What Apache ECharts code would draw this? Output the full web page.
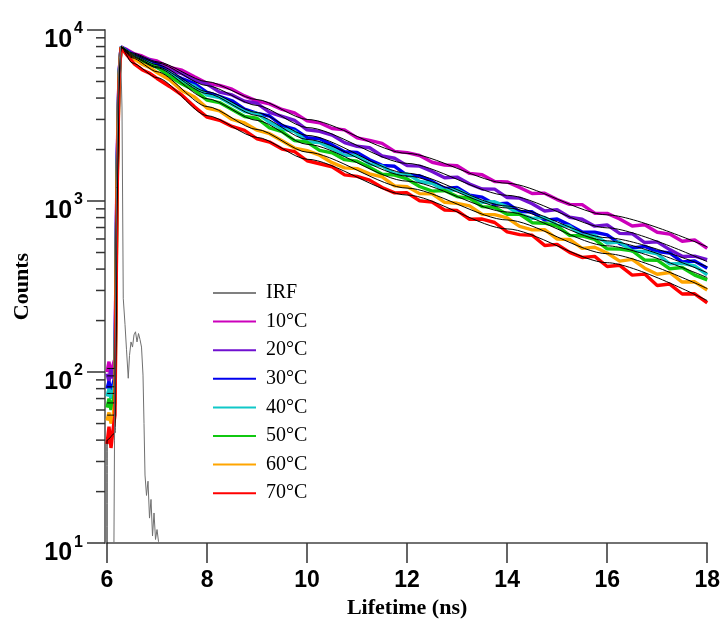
<!DOCTYPE html>
<html>
<head>
<meta charset="utf-8">
<script src="https://cdn.jsdelivr.net/npm/echarts@6/dist/echarts.min.js"></script>
<style>
html,body{margin:0;padding:0;background:#fff;}
#c{width:723px;height:624px;}
</style>
</head>
<body>
<div id="c"></div>
<script>
// ---- data ----
const xTicks = [6, 8, 10, 12, 14, 16, 18];
const yTickBase = '10';
const yTickExp = { 10: '1', 100: '2', 1000: '3', 10000: '4' };
const minorTickVals = [20,30,40,50,60,70,80,90,200,300,400,500,600,700,800,900,2000,3000,4000,5000,6000,7000,8000,9000];

const seriesNames = ['10°C','20°C','30°C','40°C','50°C','60°C','70°C'];
const seriesColors = ['#cc00bb','#7010d0','#0000ee','#10c8c8','#10c810','#ffa500','#ff0000'];

const dataT = [6.00,6.04,6.08,6.12,6.16,6.20,6.24,6.28,6.40,6.55,6.70,6.85,
  7.00,7.25,7.50,7.75,8.00,8.25,8.50,8.75,9.00,9.25,9.50,9.75,10.00,10.25,10.50,10.75,
  11.00,11.25,11.50,11.75,12.00,12.25,12.50,12.75,13.00,13.25,13.50,13.75,14.00,14.25,
  14.50,14.75,15.00,15.25,15.50,15.75,16.00,16.25,16.50,16.75,17.00,17.25,17.50,17.75,18.00];

const d10 = [100,115,92,110,120,1600,5600,7950,7680,7240,7050,6720,
  6585,6039,5814,5330,4890,4737,4508,4118,3842,3697,3430,3274,2940,2868,2653,2606,
  2342,2260,2173,1950,1919,1846,1686,1624,1607,1450,1424,1300,1295,1200,
  1106,1112,1020,956,953,849,847,785,715,726,657,641,582,593,529];
const d20 = [98,88,105,92,110,1500,5500,7950,7580,7200,6860,6700,
  6366,5831,5555,5100,4825,4332,4171,3831,3729,3303,3130,2958,2609,2555,2428,2195,
  2089,2050,1833,1778,1610,1601,1490,1368,1380,1257,1176,1174,1048,1040,
  965,874,891,804,783,713,725,647,644,572,577,520,475,476,455];
const d30 = [80,88,76,85,95,1400,5400,7950,7570,7020,6820,6490,
  6323,5586,5200,4855,4316,4091,3856,3450,3257,3142,2764,2636,2347,2315,2130,1940,
  1926,1742,1617,1597,1411,1405,1303,1184,1201,1081,1054,958,972,868,
  865,773,785,723,659,657,634,564,531,543,507,497,441,446,405];
const d40 = [72,80,70,78,88,1300,5300,7950,7480,6980,6630,6400,
  6029,5622,4986,4697,4165,4026,3665,3335,3255,2887,2636,2556,2221,2197,2025,1848,
  1845,1650,1600,1444,1442,1300,1270,1156,1163,1070,984,990,929,836,
  792,803,723,712,628,631,567,576,509,508,491,429,432,418,370];
const d50 = [62,70,60,68,78,1200,5200,7900,7460,6830,6600,6250,
  6070,5365,4836,4448,3891,3763,3428,3121,3049,2676,2545,2255,2209,1976,1914,1746,
  1709,1575,1436,1419,1346,1216,1143,1152,1062,1038,928,918,837,839,
  747,742,714,630,625,596,525,524,512,452,451,402,409,369,346];
const d60 = [52,58,50,56,66,1100,5100,7900,7380,6770,6320,6040,
  5643,5122,4421,4053,3499,3370,2998,2859,2594,2476,2249,2041,1969,1853,1676,1562,
  1546,1441,1383,1226,1214,1105,1101,983,970,937,836,833,798,710,
  678,680,599,596,529,537,497,445,456,405,373,382,336,337,302];
const d70 = [38,48,36,46,56,1000,5000,7900,7120,6310,5860,5590,
  5207,4677,4159,3554,3097,2965,2728,2586,2309,2211,2013,1946,1720,1652,1587,1421,
  1393,1325,1199,1116,1117,1004,986,887,880,782,785,749,660,636,
  631,550,558,501,468,475,414,421,369,374,321,327,286,287,254];

const fitT = [6.00,6.00,6.16,6.20,6.24,6.28,6.50,7,8,9,10,12,14,16,18];
const f10 = [105,105,105,1600,5600,7950,7350,6520,4990,3920,3000,1900,1270,830,540];
const f20 = [95,95,95,1500,5500,7950,7250,6430,4730,3620,2690,1660,1080,697,442];
const f30 = [82,82,82,1400,5400,7950,7150,6260,4360,3290,2420,1455,935,610,413];
const f40 = [75,75,75,1300,5300,7950,7060,6090,4250,3160,2290,1400,911,585,381];
const f50 = [66,66,66,1200,5200,7950,6970,6010,3970,2960,2145,1307,863,547,357];
const f60 = [56,56,56,1100,5100,7950,6880,5700,3570,2620,1930,1190,775,492,308];
const f70 = [1,40,44,1000,5000,7950,6430,5260,3160,2356,1755,1084,687,436,262];

const irfT = [6.12,6.15,6.19,6.23,6.27,6.30,6.325,6.36,6.39,6.425,6.45,6.48,6.51,6.54,6.57,6.60,
  6.63,6.66,6.69,6.72,6.74,6.76,6.79,6.82,6.85,6.88,6.91,6.94,6.97,7.00,7.03,7.06];
const irfV = [1,40,1200,6000,7950,3500,270,190,135,92,125,150,140,165,172,150,
  168,155,140,96,50,25,19,23,14,18,11,15,10.5,12,10.2,1];

// ---- build ----
const dataSets = [d10,d20,d30,d40,d50,d60,d70];
const fitSets = [f10,f20,f30,f40,f50,f60,f70];
const zip = (xs, ys) => xs.map((x, i) => [x, ys[i]]);

const series = [];
dataSets.forEach((ds, i) => {
  series.push({
    name: seriesNames[i], type: 'line', data: zip(dataT, ds),
    showSymbol: false, symbol: 'none', color: seriesColors[i],
    lineStyle: { color: seriesColors[i], width: 3.4 }, z: 2
  });
});
fitSets.forEach((fs, i) => {
  series.push({
    name: 'fit' + i, type: 'line', data: zip(fitT, fs),
    showSymbol: false, symbol: 'none', smooth: 0.25, smoothMonotone: 'x',
    lineStyle: { color: '#000', width: 1 }, z: 3
  });
});
series.push({
  name: 'IRF', type: 'line', data: zip(irfT, irfV), showSymbol: false, symbol: 'none',
  color: '#808080', lineStyle: { color: '#707070', width: 1 }, z: 4
});
series.push({
  name: 'minor', type: 'custom', silent: true, clip: false, z: 5,
  data: minorTickVals.map(v => [6, v]), encode: { x: 0, y: 1 },
  renderItem: function (params, api) {
    const p = api.coord([6, api.value(1)]);
    return { type: 'line', shape: { x1: p[0] - 11, y1: p[1], x2: p[0] - 2, y2: p[1] },
      style: { stroke: '#333', lineWidth: 1.5 } };
  }
});

const chart = echarts.init(document.getElementById('c'), null, { renderer: 'canvas' });
chart.setOption({
  animation: false,
  backgroundColor: '#fff',
  grid: { left: 107, right: 15, top: 30, bottom: 76 },
  legend: {
    data: ['IRF'].concat(seriesNames),
    orient: 'vertical', left: 208, top: 278,
    icon: 'rect', itemWidth: 43, itemHeight: 2, itemGap: 8.6,
    textStyle: { fontFamily: 'Liberation Serif', fontSize: 20, color: '#000', lineHeight: 20, padding: [0, 0, 0, 5] }
  },
  xAxis: {
    type: 'value', min: 6, max: 18, interval: 2,
    axisLine: { show: true, lineStyle: { color: '#444', width: 1.5 } },
    axisTick: { show: true, length: 20, lineStyle: { color: '#333', width: 1.5 } },
    axisLabel: { margin: 26, fontFamily: 'Liberation Sans', fontWeight: 'bold', fontSize: 23, color: '#000',
      formatter: v => xTicks.indexOf(v) >= 0 ? String(v) : '' },
    splitLine: { show: false },
    name: 'Lifetime (ns)', nameLocation: 'middle', nameGap: 53,
    nameTextStyle: { fontFamily: 'Liberation Serif', fontWeight: 'bold', fontSize: 22, color: '#000' }
  },
  yAxis: {
    type: 'log', logBase: 10, min: 10, max: 10000, offset: 2,
    axisLine: { show: true, lineStyle: { color: '#777', width: 2 } },
    axisTick: { show: true, length: 18, lineStyle: { color: '#333', width: 1.5 } },
    axisLabel: {
      margin: 22, padding: [6, 0, 0, 0],
      formatter: v => '{b|' + yTickBase + '}{s|' + (yTickExp[Math.round(v)] || '') + '}',
      rich: {
        b: { fontFamily: 'Liberation Sans', fontWeight: 'bold', fontSize: 25, color: '#000', verticalAlign: 'top', lineHeight: 24, padding: [7, 0, 0, 0] },
        s: { fontFamily: 'Liberation Sans', fontWeight: 'bold', fontSize: 16, color: '#000', verticalAlign: 'top', lineHeight: 16, padding: [0, 0, 0, 2] }
      }
    },
    splitLine: { show: false },
    name: 'Counts', nameLocation: 'middle', nameGap: 72,
    nameTextStyle: { fontFamily: 'Liberation Serif', fontWeight: 'bold', fontSize: 22, color: '#000' }
  },
  series: series
});
</script>
</body>
</html>
